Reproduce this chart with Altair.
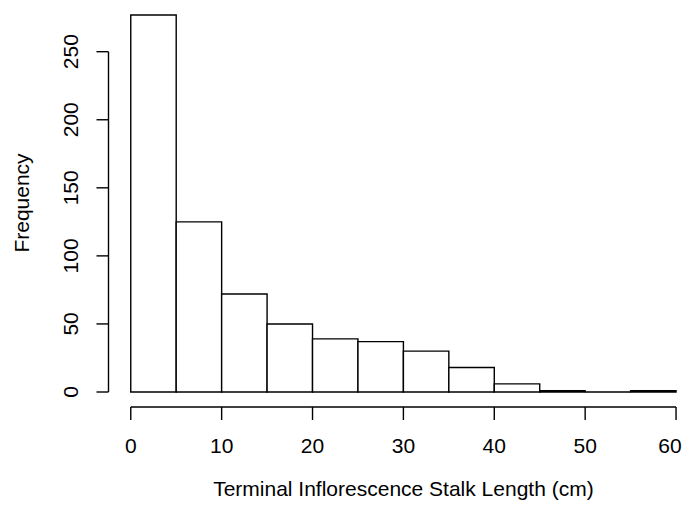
import altair as alt
import pandas as pd

# ---- data ----
bin_start = [0, 5, 10, 15, 20, 25, 30, 35, 40, 45, 50, 55]
bin_end = [5, 10, 15, 20, 25, 30, 35, 40, 45, 50, 55, 60]
counts = [277, 125, 72, 50, 39, 37, 30, 18, 6, 1, 0, 1]
x_ticks = [0, 10, 20, 30, 40, 50, 60]
y_ticks = [0, 50, 100, 150, 200, 250]
x_title = "Terminal Inflorescence Stalk Length (cm)"
y_title = "Frequency"

W, H = 573.5, 399
FONT = "Liberation Sans"
FS = 21
LW = 1.4

xs = alt.Scale(domain=[-2.45, 60.656], nice=False, zero=False)
ys = alt.Scale(domain=[-11.02, 282.1], nice=False, zero=False)

bars_df = pd.DataFrame({"start": bin_start, "end": bin_end, "count": counts,
                        "base": [0] * len(counts)})
xt_df = pd.DataFrame({"v": x_ticks, "label": [str(v) for v in x_ticks]})
yt_df = pd.DataFrame({"v": y_ticks, "label": [str(v) for v in y_ticks]})
xline_df = pd.DataFrame({"a": [x_ticks[0]], "b": [x_ticks[-1]]})
yline_df = pd.DataFrame({"a": [y_ticks[0]], "b": [y_ticks[-1]]})
xtitle_df = pd.DataFrame({"mid": [(x_ticks[0] + x_ticks[-1]) / 2], "t": [x_title]})
ytitle_df = pd.DataFrame({"t": [y_title]})

last_x = x_ticks[-1]

bars = alt.Chart(bars_df).mark_rect(
    fill="white", stroke="black", strokeWidth=LW
).encode(
    x=alt.X("start:Q", scale=xs, axis=None),
    x2="end:Q",
    y=alt.Y("count:Q", scale=ys, axis=None),
    y2="base:Q",
)

x_line = alt.Chart(xline_df).mark_rule(color="black", strokeWidth=LW).encode(
    x=alt.X("a:Q", scale=xs, axis=None), x2="b:Q", y=alt.value(H)
)
x_tick_marks = alt.Chart(xt_df).mark_rule(color="black", strokeWidth=LW).encode(
    x=alt.X("v:Q", scale=xs, axis=None), y=alt.value(H), y2=alt.value(H + 13)
)
x_labels = alt.Chart(xt_df).transform_filter(
    alt.datum.v < last_x
).mark_text(
    font=FONT, fontSize=FS, color="black", align="center", baseline="alphabetic"
).encode(x=alt.X("v:Q", scale=xs, axis=None), y=alt.value(445), text="label:N")
x_label_last = alt.Chart(xt_df).transform_filter(
    alt.datum.v == last_x
).mark_text(
    font=FONT, fontSize=FS, color="black", align="center", baseline="alphabetic",
    dx=-6
).encode(x=alt.X("v:Q", scale=xs, axis=None), y=alt.value(445), text="label:N")
x_title_mark = alt.Chart(xtitle_df).mark_text(
    font=FONT, fontSize=FS, color="black", align="center", baseline="alphabetic"
).encode(x=alt.X("mid:Q", scale=xs, axis=None), y=alt.value(488), text="t:N")

y_line = alt.Chart(yline_df).mark_rule(color="black", strokeWidth=LW).encode(
    y=alt.Y("a:Q", scale=ys, axis=None), y2="b:Q", x=alt.value(0)
)
y_tick_marks = alt.Chart(yt_df).mark_rule(color="black", strokeWidth=LW).encode(
    y=alt.Y("v:Q", scale=ys, axis=None), x=alt.value(-12), x2=alt.value(0)
)
y_labels = alt.Chart(yt_df).mark_text(
    font=FONT, fontSize=FS, color="black", align="center", baseline="alphabetic",
    angle=270
).encode(y=alt.Y("v:Q", scale=ys, axis=None), x=alt.value(-30.5), text="label:N")
y_title_mark = alt.Chart(ytitle_df).mark_text(
    font=FONT, fontSize=FS, color="black", align="center", baseline="alphabetic",
    angle=270
).encode(x=alt.value(-80), y=alt.value(195), text="t:N")

chart = alt.layer(
    bars, x_line, x_tick_marks, x_labels, x_label_last, x_title_mark,
    y_line, y_tick_marks, y_labels, y_title_mark
).properties(
    width=W, height=H,
    background="white",
    autosize=alt.AutoSizeParams(type="none"),
    padding={"left": 100.5, "top": 0, "right": 0, "bottom": 94},
).configure_view(strokeWidth=0)

chart.save("out.html", embed_options={"renderer": "svg", "actions": False})
